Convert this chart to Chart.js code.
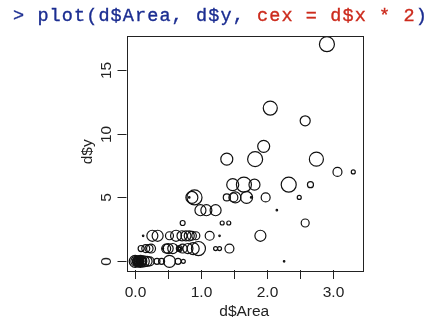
<!DOCTYPE html>
<html>
<head>
<meta charset="utf-8">
<script src="https://cdn.jsdelivr.net/npm/chart.js@4"></script>
<style>
  html, body { margin: 0; padding: 0; background: #fff; }
  #wrap { position: relative; width: 437px; height: 322px; overflow: hidden; }
  #code { position: absolute; left: 13px; top: 7px; font-family: "Liberation Mono", "DejaVu Sans Mono", monospace;
          font-size: 18.5px; letter-spacing: 1.1px; line-height: 20px; white-space: pre; color: #1b2d91;
          -webkit-text-stroke: 0.35px currentColor; }
  #code .r { color: #cc2b1d; }
  canvas { position: absolute; left: 0; top: 0; }
</style>
</head>
<body>
<div id="wrap">
  <canvas id="c" width="437" height="322"></canvas>
  <div id="code">&gt; plot(d$Area, d$y, <span class="r">cex = d$x * 2</span>)</div>
</div>
<script>
// ---- data ----
// d$Area
const area = [
  0.00,0.01,0.02,0.03,0.04,0.05,0.06,0.07,0.08,0.09,0.10,0.11,0.02,0.05,0.07,0.12,0.00,0.03,0.08,0.13,
  0.18,0.22,0.33,0.40,0.52,0.65,0.73,2.26,
  0.09,0.16,0.21,0.24,0.42,0.47,0.50,0.57,0.66,0.67,0.68,0.72,0.80,0.88,0.96,1.22,1.28,1.43,
  0.12,0.26,0.34,0.52,0.62,0.71,0.77,0.82,0.86,0.92,1.13,1.28,1.90,
  0.72,1.32,1.42,2.58,
  0.99,1.08,1.22,2.15,
  0.82,0.86,0.90,1.39,1.49,1.52,1.69,1.76,1.98,2.49,
  1.48,1.65,1.81,2.33,2.66,
  3.07,3.31,
  1.39,1.82,2.75,
  1.95,
  2.58,
  2.05,
  2.91
];
// d$y
const yVals = [
  0,0,0,0,0,0,0,0,0,0,0,0,0,0,0,0,0,0,0,0,
  0,0,0,0,0,0,0,0,
  1,1,1,1,1,1,1,1,1,1,1,1,1,1,1,1,1,1,
  2,2,2,2,2,2,2,2,2,2,2,2,2,
  3,3,3,3,
  4,4,4,4,
  5,5,5,5,5,5,5,5,5,5,
  6,6,6,6,6,
  7,7,
  8,8,8,
  9,
  11,
  12,
  17
];
// d$x (symbol size variable, cex = d$x * 2)
const xVals = [
  1.11,0.93,0.74,0.56,0.37,1.02,0.83,0.65,0.46,0.28,0.93,0.74,0.19,0.19,0.28,0.56,0.46,0.83,1.11,1.02,
  0.93,0.83,0.56,0.56,1.11,0.56,0.37,0.14,
  0.56,0.74,0.74,0.83,0.14,0.83,0.93,0.93,0.37,0.56,0.28,0.83,0.93,1.11,1.30,0.37,0.37,0.83,
  0.14,1.02,1.02,0.74,1.02,0.93,0.93,0.93,0.83,0.74,0.83,0.14,1.02,
  0.46,0.37,0.37,0.74,
  1.02,1.02,1.02,0.14,
  0.14,1.11,1.39,0.65,0.83,1.02,1.11,0.14,0.83,0.37,
  1.11,1.39,1.02,1.39,0.56,
  0.83,0.37,
  1.11,1.39,1.30,
  1.11,
  0.93,
  1.30,
  1.39
];
const xTicks = [0, 0.5, 1, 1.5, 2, 2.5, 3];
const xTickLabels = ["0.0", "", "1.0", "", "2.0", "", "3.0"];
const yTicks = [0, 5, 10, 15];
const yTickLabels = ["0", "5", "10", "15"];
const xTitle = "d$Area";
const yTitle = "d$y";

// R-style axis limits: data range extended by 4%
function rRange(arr) {
  const lo = Math.min(...arr), hi = Math.max(...arr), e = (hi - lo) * 0.04;
  return [lo - e, hi + e];
}
const [xMin, xMax] = rRange(area);
const [yMin, yMax] = rRange(yVals);

const points = area.map((a, i) => ({ x: a, y: yVals[i] }));
const CEX_RADIUS = 2.7; // radius in px of a cex = 1 circle

const rAxes = {
  id: 'rAxes',
  afterDraw(chart) {
    const ctx = chart.ctx, ca = chart.chartArea;
    const xs = chart.scales.x, ys = chart.scales.y;
    ctx.save();
    ctx.strokeStyle = '#222';
    ctx.lineWidth = 1;
    ctx.strokeRect(Math.round(ca.left) + 0.5, Math.round(ca.top) + 0.5,
                   Math.round(ca.right - ca.left), Math.round(ca.bottom - ca.top));
    ctx.fillStyle = '#222';
    ctx.font = '15.5px "Liberation Sans", Arial, sans-serif';
    // x axis
    ctx.textAlign = 'center';
    ctx.textBaseline = 'middle';
    xTicks.forEach((v, i) => {
      const px = Math.round(xs.getPixelForValue(v)) + 0.5;
      ctx.beginPath();
      ctx.moveTo(px, ca.bottom);
      ctx.lineTo(px, ca.bottom + 9);
      ctx.stroke();
      if (xTickLabels[i]) ctx.fillText(xTickLabels[i], px, ca.bottom + 22.5);
    });
    ctx.fillText(xTitle, (ca.left + ca.right) / 2, ca.bottom + 41.5);
    // y axis
    yTicks.forEach((v, i) => {
      const py = Math.round(ys.getPixelForValue(v)) + 0.5;
      ctx.beginPath();
      ctx.moveTo(ca.left, py);
      ctx.lineTo(ca.left - 9, py);
      ctx.stroke();
      ctx.save();
      ctx.translate(ca.left - 20, py);
      ctx.rotate(-Math.PI / 2);
      ctx.fillText(yTickLabels[i], 0, 0);
      ctx.restore();
    });
    ctx.save();
    ctx.translate(ca.left - 38.5, (ca.top + ca.bottom) / 2 - 1);
    ctx.rotate(-Math.PI / 2);
    ctx.fillText(yTitle, 0, 0);
    ctx.restore();
    ctx.restore();
  }
};

new Chart(document.getElementById('c'), {
  type: 'scatter',
  data: {
    datasets: [{
      data: points,
      pointStyle: 'circle',
      pointRadius: (c) => xVals[c.dataIndex] * 2 * CEX_RADIUS,
      pointHoverRadius: (c) => xVals[c.dataIndex] * 2 * CEX_RADIUS,
      borderColor: '#111',
      backgroundColor: 'rgba(0,0,0,0)',
      borderWidth: 1.2,
      pointBorderWidth: 1.2
    }]
  },
  options: {
    responsive: false,
    animation: false,
    events: [],
    layout: { padding: { left: 126.5, right: 75, top: 35.5, bottom: 52 } },
    plugins: { legend: { display: false }, tooltip: { enabled: false } },
    scales: {
      x: { type: 'linear', min: xMin, max: xMax, display: false },
      y: { type: 'linear', min: yMin, max: yMax, display: false }
    }
  },
  plugins: [rAxes]
});
</script>
</body>
</html>
